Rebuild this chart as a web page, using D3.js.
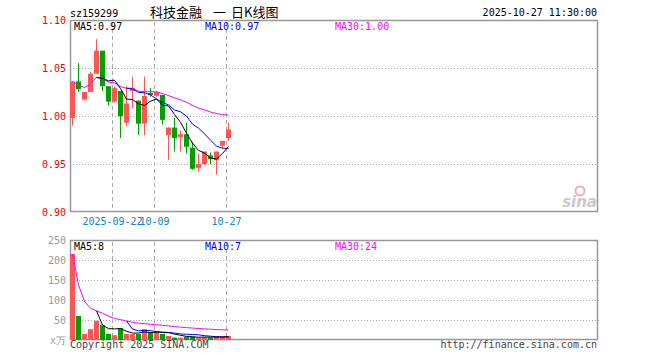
<!DOCTYPE html>
<html>
<head>
<meta charset="utf-8">
<script src="https://cdn.jsdelivr.net/npm/d3@7"></script>
<style>
  body { margin: 0; background: #fff; }
  svg text { font-family: "DejaVu Sans Mono", monospace; font-size: 10px; }
  svg text.title { font-family: "Noto Sans CJK SC", sans-serif; font-size: 13px; }
</style>
</head>
<body>
<div id="chart"></div>
<script>
const dates = ['2025-09-11','2025-09-12','2025-09-15','2025-09-16','2025-09-17','2025-09-18','2025-09-19',
  '2025-09-22','2025-09-23','2025-09-24','2025-09-25','2025-09-26','2025-09-29','2025-09-30',
  '2025-10-09','2025-10-10','2025-10-13','2025-10-14','2025-10-15','2025-10-16','2025-10-17',
  '2025-10-20','2025-10-21','2025-10-22','2025-10-23','2025-10-24','2025-10-27'];
const opens  = [0.998,1.036,1.017,1.025,1.044,1.068,1.031,1.015,1.026,0.993,1.026,1.016,0.992,1.024,
  1.021,1.022,0.980,0.988,0.978,0.981,0.967,0.946,0.950,0.959,0.954,0.969,0.977];
const highs  = [1.036,1.055,1.025,1.046,1.080,1.068,1.031,1.031,1.026,1.031,1.041,1.016,1.041,1.029,
  1.026,1.022,0.988,0.998,0.985,0.993,0.973,0.961,0.963,0.962,0.963,0.974,0.993];
const lows   = [0.990,1.025,1.016,1.025,1.044,1.026,1.011,1.014,0.977,0.989,1.008,0.980,0.980,1.020,
  1.020,0.991,0.954,0.963,0.963,0.961,0.944,0.942,0.949,0.950,0.939,0.966,0.974];
const closes = [1.036,1.028,1.025,1.044,1.068,1.031,1.015,1.029,1.000,1.013,1.029,0.992,1.021,1.022,
  1.025,0.996,0.988,0.977,0.981,0.968,0.945,0.950,0.963,0.955,0.963,0.974,0.986];
// volume in 万
const volumes = [215,60,15,27,48,37,15,12,30,15,15,15,27,20,22,15,10,6,6,8,9,6,7,6,9,9,10];

const priceTicks = [0.90, 0.95, 1.00, 1.05, 1.10];
const volTicks = [50, 100, 150, 200, 250];
const dateTicks = ['2025-09-22', '2025-10-09', '2025-10-27'];
const dateTickLabels = ['2025-09-22', '10-09', '10-27'];

const width = 660, height = 360;
const left = 70, right = 597;
const priceTop = 20, priceBottom = 212;
const volTop = 240, volBottom = 340;
const up = '#ff5555', down = '#00a000';

const svg = d3.select('#chart').append('svg')
  .attr('width', width).attr('height', height);

const x = d3.scaleBand().domain(dates)
  .range([left, left + 6 * (dates.length - 1 / 6)])
  .paddingInner(1 / 6).paddingOuter(0);
const cx = d => x(d) + 2.5;

const y = d3.scaleLinear().domain([0.90, 1.10]).range([priceBottom, priceTop]);
const yv = d3.scaleLinear().domain([0, 250]).range([volBottom, volTop]);

// moving averages (MA30 is running mean while fewer than 30 days exist)
function ma(values, n, full) {
  return values.map((v, i) => {
    if (full && i < n - 1) return null;
    const s = values.slice(Math.max(0, i - n + 1), i + 1);
    return d3.mean(s);
  });
}
const pma5 = ma(closes, 5, true), pma10 = ma(closes, 10, true), pma30 = ma(closes, 30, false);
const vma5 = ma(volumes, 5, true), vma10 = ma(volumes, 10, true), vma30 = ma(volumes, 30, false);

// header
svg.append('text').attr('x', 70).attr('y', 17).text('sz159299');
svg.append('text').attr('class', 'title').attr('x', 150).attr('y', 17).text('科技金融');
svg.append('text').attr('class', 'title').attr('x', 213).attr('y', 17).text('一');
svg.append('text').attr('class', 'title').attr('x', 231).attr('y', 17).text('日K线图');
svg.append('text').attr('x', right).attr('y', 16).attr('text-anchor', 'end')
  .text('2025-10-27 11:30:00');

// panels
[[priceTop, priceBottom], [volTop, volBottom]].forEach(([t, b]) => {
  svg.append('rect').attr('x', left + 0.5).attr('y', t + 0.5)
    .attr('width', right - left).attr('height', b - t - 1)
    .attr('fill', 'none').attr('stroke', '#999').attr('stroke-width', 1.5);
});

// grid lines
svg.append('g').selectAll('line').data(priceTicks.slice(1, -1)).join('line')
  .attr('x1', left).attr('x2', right)
  .attr('y1', d => Math.round(y(d)) + 0.5).attr('y2', d => Math.round(y(d)) + 0.5)
  .attr('stroke', '#aaa').attr('stroke-dasharray', '1,2');
svg.append('g').selectAll('line').data(volTicks.slice(0, -1)).join('line')
  .attr('x1', left).attr('x2', right + 2)
  .attr('y1', d => Math.round(yv(d)) + 0.5).attr('y2', d => Math.round(yv(d)) + 0.5)
  .attr('stroke', '#aaa').attr('stroke-dasharray', '1,2');

// date dividers
dateTicks.forEach(d => {
  const xx = x(d) + 0.5;
  [[priceTop, priceBottom], [volTop, volBottom]].forEach(([t, b]) => {
    svg.append('line').attr('x1', xx).attr('x2', xx).attr('y1', t + 2).attr('y2', b - 1)
      .attr('stroke', '#aaa').attr('stroke-dasharray', '4,3');
  });
});

// y axis labels
svg.append('g').selectAll('text').data(priceTicks).join('text')
  .attr('x', 66).attr('y', d => y(d)).attr('dy', '0.35em')
  .attr('text-anchor', 'end').attr('fill', '#e00')
  .text(d => d.toFixed(2));
svg.append('g').selectAll('text').data(volTicks).join('text')
  .attr('x', 66).attr('y', d => yv(d)).attr('dy', '0.35em')
  .attr('text-anchor', 'end').attr('fill', '#999')
  .text(d => d);
svg.append('text').attr('x', 66).attr('y', 344).attr('text-anchor', 'end')
  .attr('fill', '#999').text('x万');

// date labels
svg.append('g').selectAll('text').data(dateTicks).join('text')
  .attr('x', d => x(d) + 0.5).attr('y', 225).attr('text-anchor', 'middle')
  .attr('fill', '#0a86d0')
  .text((d, i) => dateTickLabels[i]);

// candles
const data = dates.map((d, i) => ({date: d, o: opens[i], h: highs[i], l: lows[i], c: closes[i], v: volumes[i]}));
const candles = svg.append('g').selectAll('g').data(data).join('g');
candles.append('line')
  .attr('x1', d => Math.floor(cx(d.date)) + 0.5).attr('x2', d => Math.floor(cx(d.date)) + 0.5)
  .attr('y1', d => y(d.h)).attr('y2', d => y(d.l))
  .attr('stroke', d => d.c >= d.o ? up : down);
candles.append('rect')
  .attr('x', d => x(d.date)).attr('width', x.bandwidth())
  .attr('y', d => y(Math.max(d.o, d.c)))
  .attr('height', d => Math.max(1, Math.abs(y(d.o) - y(d.c))))
  .attr('fill', d => d.c >= d.o ? up : down);

// volume bars
svg.append('g').selectAll('rect').data(data).join('rect')
  .attr('x', d => x(d.date)).attr('width', x.bandwidth())
  .attr('y', d => yv(d.v)).attr('height', d => yv(0) - yv(d.v))
  .attr('fill', d => d.c >= d.o ? up : down);

// MA lines
function drawLine(values, scale, color) {
  const line = d3.line()
    .defined(d => d != null)
    .x((d, i) => cx(dates[i]))
    .y(d => scale(d));
  svg.append('path').datum(values).attr('d', line)
    .attr('fill', 'none').attr('stroke', color).attr('stroke-width', 1);
}
drawLine(pma30, y, '#ff00ff');
drawLine(pma10, y, '#0000ff');
drawLine(pma5, y, '#000');
drawLine(vma30, yv, '#ff00ff');
drawLine(vma10, yv, '#0000ff');
drawLine(vma5, yv, '#000');

// MA legends
const last = dates.length - 1;
svg.append('text').attr('x', 74).attr('y', 30).text('MA5:' + pma5[last].toFixed(2));
svg.append('text').attr('x', 205).attr('y', 30).attr('fill', '#0000ff').text('MA10:' + pma10[last].toFixed(2));
svg.append('text').attr('x', 335).attr('y', 30).attr('fill', '#ff00ff').text('MA30:' + pma30[last].toFixed(2));
svg.append('text').attr('x', 74).attr('y', 250).text('MA5:' + Math.floor(vma5[last]));
svg.append('text').attr('x', 205).attr('y', 250).attr('fill', '#0000ff').text('MA10:' + Math.floor(vma10[last]));
svg.append('text').attr('x', 335).attr('y', 250).attr('fill', '#ff00ff').text('MA30:' + Math.floor(vma30[last]));

// sina watermark
const logo = svg.append('g').attr('opacity', 0.45);
logo.append('circle').attr('cx', 580).attr('cy', 191).attr('r', 4.5)
  .attr('fill', 'none').attr('stroke', '#e05050').attr('stroke-width', 2);
logo.append('text').attr('x', 597).attr('y', 207).attr('text-anchor', 'end')
  .style('font-family', '"DejaVu Sans", sans-serif').style('font-size', '15px')
  .style('font-style', 'italic').style('font-weight', 'bold')
  .attr('fill', '#888').text('sina');

// footer
svg.append('text').attr('x', 70).attr('y', 348).attr('fill', '#444').text('Copyright 2025 SINA.COM');
svg.append('text').attr('x', right).attr('y', 348).attr('text-anchor', 'end')
  .attr('fill', '#444').text('http://finance.sina.com.cn');
</script>
</body>
</html>
